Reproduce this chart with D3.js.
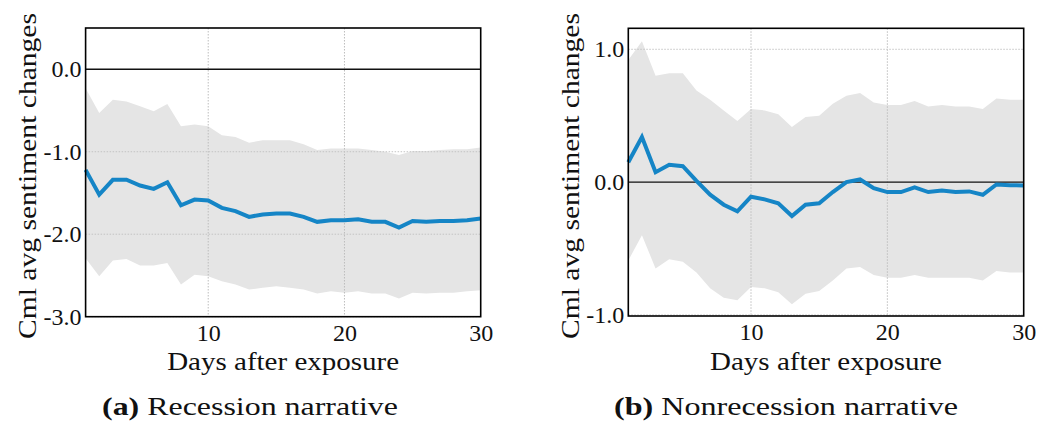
<!DOCTYPE html>
<html>
<head>
<meta charset="utf-8">
<script src="https://cdn.jsdelivr.net/npm/d3@7"></script>
<style>
  html, body { margin: 0; padding: 0; background: #fff; }
  svg { display: block; }
  text { font-family: "Liberation Serif", serif; fill: #111; }
</style>
</head>
<body>
<svg id="chart" width="1037" height="429"></svg>
<script>
// ---- Data ----
const days = [1,2,3,4,5,6,7,8,9,10,11,12,13,14,15,16,17,18,19,20,21,22,23,24,25,26,27,28,29,30];

// Panel (a) Recession narrative
const recMean  = [-1.22,-1.52,-1.34,-1.34,-1.41,-1.45,-1.37,-1.65,-1.58,-1.59,-1.68,-1.72,-1.79,-1.76,-1.75,-1.75,-1.79,-1.85,-1.83,-1.83,-1.82,-1.85,-1.85,-1.92,-1.84,-1.85,-1.84,-1.84,-1.83,-1.81];
const recUpper = [-0.23,-0.53,-0.37,-0.39,-0.45,-0.51,-0.42,-0.69,-0.67,-0.69,-0.80,-0.82,-0.89,-0.86,-0.86,-0.86,-0.91,-0.98,-0.96,-0.96,-0.96,-0.98,-1.00,-1.04,-0.99,-0.99,-0.98,-0.97,-0.97,-0.95];
const recLower = [-2.29,-2.51,-2.32,-2.30,-2.38,-2.38,-2.35,-2.61,-2.49,-2.51,-2.57,-2.61,-2.67,-2.65,-2.63,-2.65,-2.67,-2.72,-2.69,-2.71,-2.69,-2.72,-2.72,-2.78,-2.71,-2.72,-2.71,-2.71,-2.69,-2.68];

// Panel (b) Nonrecession narrative
const nonMean  = [0.15,0.34,0.075,0.13,0.12,0.01,-0.095,-0.17,-0.22,-0.11,-0.13,-0.16,-0.255,-0.17,-0.16,-0.075,0.0,0.02,-0.045,-0.075,-0.075,-0.04,-0.075,-0.063,-0.075,-0.07,-0.095,-0.018,-0.023,-0.025];
const nonUpper = [0.92,1.06,0.80,0.82,0.82,0.69,0.62,0.54,0.46,0.55,0.54,0.51,0.415,0.49,0.50,0.59,0.65,0.67,0.60,0.58,0.58,0.61,0.57,0.58,0.57,0.57,0.55,0.63,0.62,0.62];
const nonLower = [-0.59,-0.40,-0.65,-0.58,-0.60,-0.68,-0.80,-0.87,-0.89,-0.79,-0.80,-0.83,-0.92,-0.84,-0.82,-0.74,-0.65,-0.64,-0.70,-0.72,-0.72,-0.70,-0.72,-0.72,-0.72,-0.72,-0.74,-0.67,-0.68,-0.68];

// Tick values / labels
const xTicks = [10, 20, 30];
const recYTicks = [0, -1, -2, -3];
const nonYTicks = [1, 0, -1];
const yLabel = "Cml avg sentiment changes";
const xLabel = "Days after exposure";

// ---- Drawing ----
const svg = d3.select("#chart");
const FONT = '"Liberation Serif", serif';

function panel(cfg) {
  const { left, right, top, bottom, yDomain, yTicks, mean, upper, lower,
          yLabelX, capTag, capText, capX, capLen } = cfg;

  const x = d3.scaleLinear().domain([1, 30]).range([left, right]);
  const y = d3.scaleLinear().domain(yDomain).range([bottom, top]);
  const g = svg.append("g");

  // confidence band
  const area = d3.area()
    .x((d, i) => x(days[i]))
    .y0((d, i) => y(lower[i]))
    .y1((d, i) => y(upper[i]));
  g.append("path").datum(days).attr("d", area).attr("fill", "#e5e5e5");

  // grid
  g.selectAll(".vg").data(xTicks.filter(t => t < 30)).enter().append("line")
    .attr("x1", d => x(d)).attr("x2", d => x(d))
    .attr("y1", top).attr("y2", bottom)
    .attr("stroke", "#bdbdbd").attr("stroke-width", 1)
    .attr("stroke-dasharray", "1.5,1.5");
  g.selectAll(".hg").data(yTicks.filter(t => t !== 0)).enter().append("line")
    .attr("x1", left).attr("x2", right)
    .attr("y1", d => y(d)).attr("y2", d => y(d))
    .attr("stroke", "#c4c4c4").attr("stroke-width", 1)
    .attr("stroke-dasharray", "1.5,1.5");

  // zero line
  g.append("line")
    .attr("x1", left).attr("x2", right)
    .attr("y1", y(0)).attr("y2", y(0))
    .attr("stroke", "#111").attr("stroke-width", 1.4);

  // mean line
  const line = d3.line().x((d, i) => x(days[i])).y((d, i) => y(mean[i]));
  g.append("path").datum(days).attr("d", line)
    .attr("fill", "none").attr("stroke", "#1585c6")
    .attr("stroke-width", 4).attr("stroke-linejoin", "miter");

  // frame
  g.append("rect")
    .attr("x", left).attr("y", top)
    .attr("width", right - left).attr("height", bottom - top)
    .attr("fill", "none").attr("stroke", "#000").attr("stroke-width", 1.6);

  // axes
  const fmt = d => d.toFixed(1);
  const ya = g.append("g").attr("transform", `translate(${left},0)`)
    .call(d3.axisLeft(y).tickValues(yTicks).tickFormat(fmt).tickSize(0).tickPadding(4));
  ya.attr("font-family", FONT);
  ya.select(".domain").remove();
  ya.selectAll("text").style("font-family", FONT)
    .style("font-size", "24px").attr("fill", "#111");

  const xa = g.append("g").attr("transform", `translate(0,${bottom})`)
    .call(d3.axisBottom(x).tickValues(xTicks).tickFormat(d3.format("d")).tickSize(0).tickPadding(7));
  xa.attr("font-family", FONT);
  xa.select(".domain").remove();
  xa.selectAll("text").style("font-family", FONT)
    .style("font-size", "24px").attr("fill", "#111");

  // axis labels
  svg.append("text")
    .attr("transform", `translate(${yLabelX},176) rotate(-90)`)
    .attr("text-anchor", "middle")
    .attr("textLength", 326).attr("lengthAdjust", "spacingAndGlyphs")
    .style("font-family", FONT).style("font-size", "25px")
    .text(yLabel);

  svg.append("text")
    .attr("x", (left + right) / 2).attr("y", 370)
    .attr("text-anchor", "middle")
    .attr("textLength", 232).attr("lengthAdjust", "spacingAndGlyphs")
    .style("font-family", FONT).style("font-size", "25px")
    .text(xLabel);

  // caption
  const cap = svg.append("text")
    .attr("x", capX).attr("y", 415)
    .attr("text-anchor", "middle")
    .attr("textLength", capLen).attr("lengthAdjust", "spacingAndGlyphs")
    .style("font-family", FONT).style("font-size", "25px");
  cap.append("tspan").style("font-weight", "bold").text(capTag);
  cap.append("tspan").text(" " + capText);
}

panel({
  left: 85.6, right: 480.7, top: 28, bottom: 316.7,
  yDomain: [-3, 0.5], yTicks: recYTicks,
  mean: recMean, upper: recUpper, lower: recLower,
  yLabelX: 36, capTag: "(a)", capText: "Recession narrative", capX: 250, capLen: 296
});

panel({
  left: 628.3, right: 1023.7, top: 28.3, bottom: 316,
  yDomain: [-1.008, 1.158], yTicks: nonYTicks,
  mean: nonMean, upper: nonUpper, lower: nonLower,
  yLabelX: 579, capTag: "(b)", capText: "Nonrecession narrative", capX: 786, capLen: 344
});
</script>
</body>
</html>
